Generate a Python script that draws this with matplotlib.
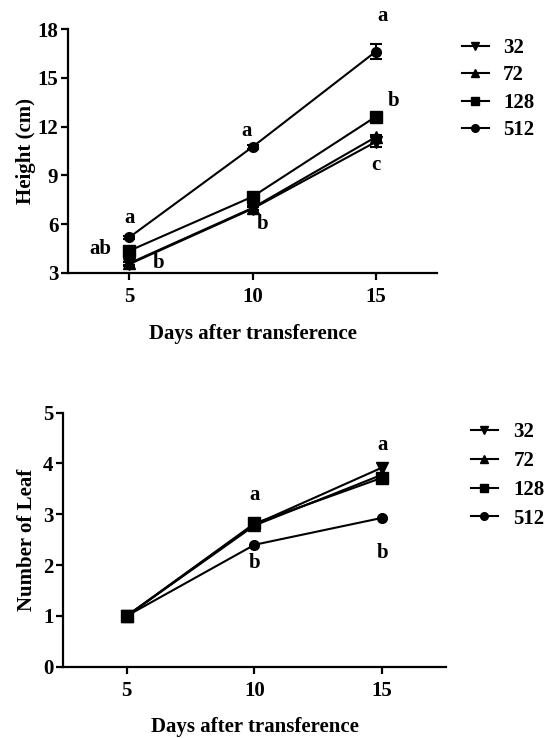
import matplotlib
matplotlib.use("Agg")
import matplotlib.pyplot as plt
from matplotlib.lines import Line2D

# ------------------ Data ------------------
days = [5, 10, 15]
groups = ["32", "72", "128", "512"]
markers = ["v", "^", "s", "o"]

height_32 = [3.55, 6.95, 11.05]
height_72 = [3.6, 7.0, 11.35]
height_128 = [4.37, 7.69, 12.6]
height_512 = [5.2, 10.75, 16.6]
height_err_32 = [0.1, 0.1, 0.3]
height_err_72 = [0.1, 0.1, 0.15]
height_err_128 = [0.1, 0.1, 0.15]
height_err_512 = [0.1, 0.1, 0.45]

leaf_32 = [1.0, 2.8, 3.92]
leaf_72 = [1.0, 2.78, 3.78]
leaf_128 = [1.0, 2.82, 3.72]
leaf_512 = [1.0, 2.4, 2.93]

# significance letters: (x, y, text)
height_letters = [(5, 6.4, "a"), (3.8, 4.5, "ab"), (6.2, 3.6, "b"),
                  (9.75, 11.75, "a"), (10.4, 6.0, "b"),
                  (15.3, 18.8, "a"), (15.75, 13.6, "b"), (15.0, 9.65, "c")]
leaf_letters = [(10, 3.38, "a"), (10, 2.04, "b"),
                (15, 4.36, "a"), (15, 2.24, "b")]

plt.rcParams["font.family"] = ["Liberation Serif", "DejaVu Serif"]
plt.rcParams["font.weight"] = "bold"
FS = 15

fig = plt.figure(figsize=(5.5, 7.38), dpi=100)
ax1 = fig.add_axes([0.1236, 0.6301, 0.671, 0.3306])
ax2 = fig.add_axes([0.1145, 0.0966, 0.6964, 0.3442])


def style_axes(ax):
    for side in ["top", "right"]:
        ax.spines[side].set_visible(False)
    for side in ["left", "bottom"]:
        ax.spines[side].set_linewidth(1.6)
    ax.tick_params(direction="out", length=5, width=1.6, labelsize=FS)
    ax.tick_params(axis="x", pad=5)
    ax.tick_params(axis="y", pad=2)
    for lab in ax.get_xticklabels() + ax.get_yticklabels():
        lab.set_fontweight("bold")
    ax.set_xlim(2.5, 17.5)
    ax.set_xticks(days)
    ax.set_xlabel("Days after transference", fontsize=FS, fontweight="bold", labelpad=12)


def legend_handles():
    return [Line2D([], [], color="black", marker=m, markersize=6 if m != "o" else 5.5,
                   linewidth=1.5, label=g) for g, m in zip(groups, markers)]


# ------------------ Height ------------------
h_vals = [height_32, height_72, height_128, height_512]
h_errs = [height_err_32, height_err_72, height_err_128, height_err_512]
for g, m, v, e in zip(groups, markers, h_vals, h_errs):
    ax1.errorbar(days, v, yerr=e, color="black", marker=m, markersize=8 if m != "o" else 7,
                 linewidth=1.5, elinewidth=1.5, capsize=4, capthick=1.5, label=g)
ax1.set_ylim(3, 18)
ax1.set_yticks([3, 6, 9, 12, 15, 18])
ax1.set_ylabel("Height (cm)", fontsize=FS, fontweight="bold", labelpad=1)
style_axes(ax1)
for x, y, t in height_letters:
    ax1.text(x, y, t, fontsize=FS, fontweight="bold", ha="center", va="center", clip_on=False)
ax1.legend(handles=legend_handles(), loc="upper left", bbox_to_anchor=(0.805, 0.974),
           bbox_transform=fig.transFigure, frameon=False, fontsize=FS,
           handlelength=1.3, handletextpad=0.7, labelspacing=0.36)

# ------------------ Leaf ------------------
l_vals = [leaf_32, leaf_72, leaf_128, leaf_512]
for g, m, v in zip(groups, markers, l_vals):
    ax2.plot(days, v, color="black", marker=m, markersize=8 if m != "o" else 7,
             linewidth=1.5, label=g)
ax2.set_ylim(0, 5)
ax2.set_yticks([0, 1, 2, 3, 4, 5])
ax2.set_ylabel("Number of Leaf", fontsize=FS, fontweight="bold", labelpad=4)
style_axes(ax2)
for x, y, t in leaf_letters:
    ax2.text(x, y, t, fontsize=FS, fontweight="bold", ha="center", va="center", clip_on=False)
ax2.legend(handles=legend_handles(), loc="upper left", bbox_to_anchor=(0.822, 0.453),
           bbox_transform=fig.transFigure, frameon=False, fontsize=FS,
           handlelength=1.3, handletextpad=0.75, labelspacing=0.42)

fig.savefig("out.png", dpi=100)
